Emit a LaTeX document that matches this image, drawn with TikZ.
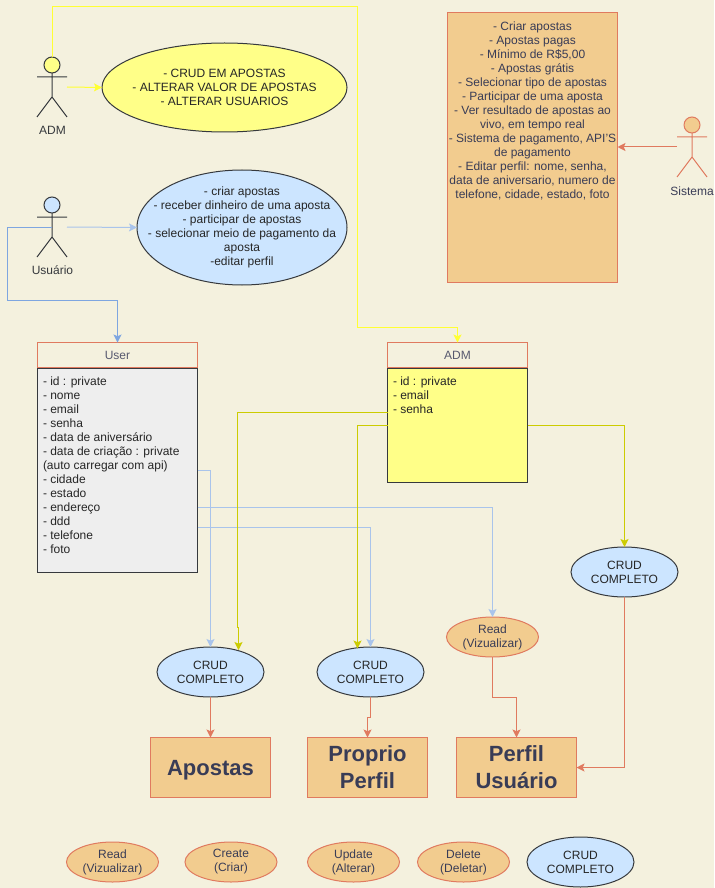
\documentclass[tikz,border=0pt]{standalone}
\usepackage{fontspec}
\setmainfont{Liberation Sans}
\usetikzlibrary{arrows.meta,shapes.geometric}
\definecolor{fundo}{HTML}{F4F1DE}
\definecolor{laranja}{HTML}{F2CC8F}
\definecolor{borda}{HTML}{E07A5F}
\definecolor{texto}{HTML}{393C56}
\definecolor{escuro}{HTML}{36393D}
\definecolor{amarelo}{HTML}{FFFF88}
\definecolor{azul}{HTML}{CCE5FF}
\definecolor{cinza}{HTML}{EEEEEE}
\definecolor{fioamarelo}{HTML}{FFFF33}
\definecolor{fioverde}{HTML}{CCCC00}
\definecolor{fioazul}{HTML}{A9C4EB}
\definecolor{fioazulb}{HTML}{7EA6E0}
\tikzset{
  every node/.style={inner sep=0,outer sep=0,font=\fontsize{9}{10.5}\selectfont,align=center},
  every path/.style={line width=0.75pt},
  tip/.style={-{Stealth[length=6pt,width=6pt,inset=1.3pt]}},
  fioA/.style={tip,draw=fioamarelo},
  fioV/.style={tip,draw=fioverde},
  fioZ/.style={tip,draw=fioazul},
  fioO/.style={tip,draw=borda},
  crud/.style={ellipse,draw=escuro,fill=azul,text=black!85,minimum width=80.25pt,minimum height=37.5pt},
  acao/.style={ellipse,draw=borda,fill=laranja,text=texto,minimum width=69pt,minimum height=30pt},
  alvo/.style={rectangle,draw=borda,fill=laranja,text=texto,minimum width=90pt,minimum height=45pt,
    font=\fontsize{16.5}{20.25}\selectfont\bfseries},
  cabeca/.style={rectangle,draw=borda,text=texto!85,minimum height=19.1pt},
  corpo/.style={rectangle,draw=escuro,text=black!85},
  lista/.style={align=left,anchor=north west,text=black!85},
  cabecinha/.style={circle,minimum size=12pt},
}
\begin{document}
\begin{tikzpicture}[x=0.75pt,y=-0.75pt]
  \useasboundingbox[fill=fundo] (0,0) rectangle (714,888);

  \node[ellipse,draw=escuro,fill=amarelo,minimum width=183.75pt,minimum height=66.75pt] (usoadm) at (224.5,87.5) {};
  \node[text=black!85] (usoadmtxt) at (224.5,87.5) {- CRUD EM APOSTAS\\- ALTERAR VALOR DE APOSTAS\\- ALTERAR USUARIOS};
  \node[ellipse,draw=escuro,fill=azul,minimum width=157.5pt,minimum height=86.25pt] (usouser) at (242,227.5) {};
  \node[text=black!85] (usousertxt) at (242,227.5) {- criar apostas\\- receber dinheiro de uma aposta\\- participar de apostas\\- selecionar meio de pagamento da\\aposta\\-editar perfil};

  \node[rectangle,draw=borda,fill=laranja,minimum width=127.5pt,minimum height=202.5pt] (regras) at (532.5,147.5) {};
  \node[anchor=north,text=texto] (regrastxt) at (532.5,21.5) {- Criar apostas\\- Apostas pagas\\- Mínimo de R\$5,00\\- Apostas grátis\\- Selecionar tipo de apostas\\- Participar de uma aposta\\- Ver resultado de apostas ao\\vivo, em tempo real\\- Sistema de pagamento, API'S\\de pagamento\\- Editar perfil: nome, senha,\\data de aniversario, numero de\\telefone, cidade, estado, foto};

  \node[cabecinha,draw=escuro,fill=amarelo] (admhead) at (52,65) {};
  \draw[escuro] (admhead.south) -- (52,97) -- (37,117) (52,97) -- (67,117) (37,77) -- (67,77);
  \node[text=escuro] (admnome) at (52.5,130.5) {ADM};
  \node[cabecinha,draw=escuro,fill=azul] (userhead) at (52,205) {};
  \draw[escuro] (userhead.south) -- (52,237) -- (37,257) (52,237) -- (67,257) (37,217) -- (67,217);
  \node[text=escuro] (usernome) at (52.5,270.5) {Usuário};
  \node[cabecinha,draw=borda,fill=laranja] (sishead) at (692,125) {};
  \draw[borda] (sishead.south) -- (692,157) -- (677,177) (692,157) -- (707,177) (677,137) -- (707,137);
  \node[text=texto] (sisnome) at (692,191) {Sistema};

  \coordinate (admmao) at (67,87);
  \coordinate (usermao) at (67,227);
  \coordinate (userpeito) at (52,227);
  \coordinate (sismao) at (677,147);

  \node[cabeca,minimum width=120pt] (usertopo) at (117.5,355.25) {User};
  \node[corpo,fill=cinza,minimum width=120pt,minimum height=153pt] (usercorpo) at (117.5,470) {};
  \node[lista] (userlista) at (43,377) {- id : private\\- nome\\- email\\- senha\\- data de aniversário\\- data de criação : private\\(auto carregar com api)\\- cidade\\- estado\\- endereço\\- ddd\\- telefone\\- foto};
  \node[cabeca,minimum width=105pt] (admtopo) at (457.5,355.25) {ADM};
  \node[corpo,fill=amarelo,minimum width=105pt,minimum height=85.5pt] (admcorpo) at (457.5,425) {};
  \node[lista] (admlista) at (393,377) {- id : private\\- email\\- senha};

  \node[crud] (crudapostas) at (210.5,672) {CRUD\\COMPLETO};
  \node[crud] (crudproprio) at (370.5,672) {CRUD\\COMPLETO};
  \node[crud] (crudperfil) at (624.5,572) {CRUD\\COMPLETO};
  \node[acao] (readperfil) at (492.5,637) {Read\\(Vizualizar)};

  \node[alvo,text height=15pt] (apostas) at (210.5,767.5) {Apostas};
  \node[alvo] (proprio) at (367.5,767.5) {Proprio\\Perfil};
  \node[alvo] (perfil) at (516.5,767.5) {Perfil\\Usuário};

  \node[acao] (legread) at (112.5,862) {Read\\(Vizualizar)};
  \node[acao] (legcreate) at (231,862) {Create\\(Criar)};
  \node[acao] (legupdate) at (353.5,862) {Update\\(Alterar)};
  \node[acao] (legdelete) at (463.5,862) {Delete\\(Deletar)};
  \node[crud] (legcrud) at (580.5,862) {CRUD\\COMPLETO};

  \draw[fioA] (admmao) -- (usoadm.west);
  \draw[fioA] (admhead.north) -- (52,7) -- (357,7) -- (357,327) -- (457.5,327) -- (admtopo.north);
  \draw[fioZ] (usermao) -- (usouser.west);
  \draw[tip,draw=fioazulb] (userpeito) -- (7,227) -- (7,300) -- (117.5,300) -- (usertopo.north);
  \draw[fioO] (sismao) -- (regras.east |- sismao);

  \draw[fioZ] (usercorpo.east |- 0,470) -- (210.5,470) -- (crudapostas.north);
  \draw[fioZ] (usercorpo.east |- 0,507.5) -- (492.5,507.5) -- (readperfil.north);
  \draw[fioZ] (usercorpo.east |- 0,527.5) -- (370.5,527.5) -- (crudproprio.north);
  \draw[fioV] (admcorpo.west |- 0,412) -- (237.5,412) -- (237.5,627) -- (238.5,627) -- (238.5,650);
  \draw[fioV] (admcorpo.west |- 0,425.5) -- (357.5,425.5) -- (357.5,648.5);
  \draw[fioV] (admcorpo.east |- 0,425.5) -- (624.5,425.5) -- (crudperfil.north);

  \draw[fioO] (crudapostas.south) -- (apostas.north);
  \draw[fioO] (crudproprio.south) -- (370.5,717) -- (367.5,717) -- (proprio.north);
  \draw[fioO] (readperfil.south) -- (492.5,697) -- (516.5,697) -- (perfil.north);
  \draw[fioO] (crudperfil.south) -- (624.5,767.5) -- (perfil.east);
\end{tikzpicture}
\end{document}
